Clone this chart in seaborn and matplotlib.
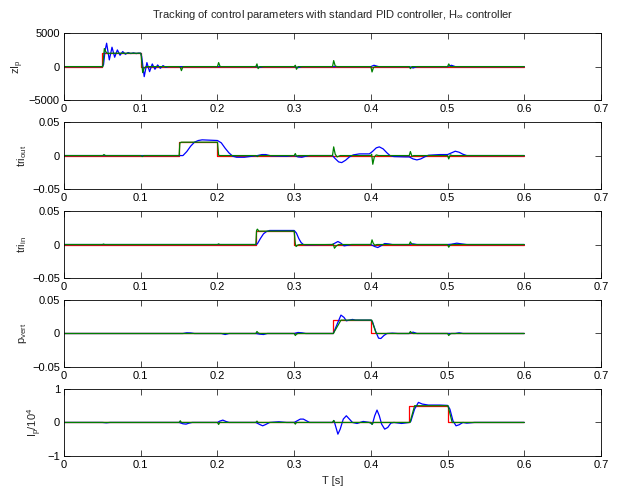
"""
Tracking of control parameters: reference, standard PID and H-infinity controller.
"""

import numpy as np
import pandas as pd
import matplotlib
matplotlib.use("Agg")
import matplotlib.pyplot as plt
import seaborn as sns

# ---- data ----
# panel 1 : zI_p
ref_t1 = [0, 0.05, 0.05, 0.1, 0.1, 0.6]
ref_v1 = [0, 0, 2000, 2000, 0, 0]
pid_t1 = [0, 0.0505, 0.0525, 0.0545, 0.057, 0.06, 0.1, 0.1005, 0.1025, 0.1045, 0.107,
          0.15, 0.1515, 0.153, 0.155, 0.2, 0.2015, 0.2035, 0.25, 0.2515, 0.253, 0.255,
          0.3, 0.3015, 0.303, 0.305, 0.35, 0.3515, 0.3535, 0.356, 0.4, 0.4015, 0.4035, 0.406,
          0.45, 0.4515, 0.4535, 0.5, 0.5015, 0.5035, 0.6]
pid_v1 = [0, 0, 2700, 2200, 1950, 2000, 2000, 1700, -900, -200, 0,
          0, -100, -600, 0, 0, 600, 0, 0, 400, -300, 0,
          0, 200, -400, 0, 0, 900, 100, 0, 0, -800, -100, 0,
          0, -300, 0, 0, 400, 0, 0]
hinf_t1 = [0, 0.05, 0.0515, 0.0535, 0.0555, 0.059, 0.0625, 0.066, 0.0695, 0.073, 0.0765,
           0.08, 0.0835, 0.087, 0.0905, 0.094, 0.0975, 0.1, 0.1012, 0.1045, 0.108, 0.1115,
           0.115, 0.1185, 0.122, 0.1255, 0.129, 0.1325, 0.136, 0.25, 0.255, 0.26,
           0.3, 0.305, 0.31, 0.4, 0.404, 0.41, 0.45, 0.455, 0.46, 0.5, 0.505, 0.51, 0.6]
hinf_v1 = [0, 0, 300, 2400, 3500, 1000, 2900, 1400, 2500, 1700, 2250,
           1850, 2100, 1950, 2050, 1950, 2020, 2000, 1500, -1500, 600, -750,
           400, -400, 250, -250, 150, -100, 0, 0, -100, 0,
           0, -150, 0, 0, 200, 0, 0, -200, 0, 0, 200, 0, 0]

# panel 2 : tri_out
ref_t2 = [0, 0.15, 0.15, 0.2, 0.2, 0.6]
ref_v2 = [0, 0, 0.02, 0.02, 0, 0]
pid_t2 = [0, 0.0505, 0.052, 0.054, 0.1, 0.102, 0.104, 0.15, 0.151, 0.153, 0.2, 0.2015, 0.203,
          0.25, 0.252, 0.254, 0.3, 0.3015, 0.303, 0.305, 0.35, 0.3515, 0.3535, 0.356, 0.36,
          0.4, 0.401, 0.4025, 0.4045, 0.407, 0.41, 0.45, 0.4515, 0.4535, 0.456,
          0.5, 0.5015, 0.5035, 0.506, 0.6]
pid_v2 = [0, 0, 0.0015, 0, 0, -0.0015, 0, 0, 0.019, 0.02, 0.02, 0.0005, 0,
          0, -0.0015, 0, 0, 0.003, -0.001, 0, 0, 0.013, 0.002, -0.002, 0,
          0, 0.002, -0.013, -0.002, 0.001, 0, 0, 0.006, -0.001, 0,
          0, -0.005, 0.001, 0, 0]
hinf_t2 = [0, 0.15, 0.155, 0.16, 0.165, 0.17, 0.175, 0.18, 0.19, 0.2, 0.205, 0.21, 0.215,
           0.22, 0.225, 0.235, 0.245, 0.252, 0.258, 0.263, 0.27, 0.29, 0.3, 0.305, 0.31,
           0.315, 0.32, 0.35, 0.353, 0.358, 0.362, 0.367, 0.372, 0.377, 0.385, 0.398,
           0.402, 0.407, 0.411, 0.416, 0.421, 0.425, 0.43, 0.445, 0.45, 0.455, 0.46,
           0.465, 0.47, 0.475, 0.49, 0.5, 0.505, 0.51, 0.515, 0.52, 0.525, 0.6]
hinf_v2 = [0, 0, 0, 0.006, 0.014, 0.02, 0.0225, 0.0235, 0.023, 0.0225, 0.019, 0.011, 0.004,
           -0.001, -0.0025, -0.0025, -0.001, 0, 0.0015, 0.0015, -0.0005, -0.001, 0, -0.002, -0.0025,
           -0.001, 0, 0, -0.004, -0.0095, -0.0105, -0.007, -0.002, 0.001, 0.0025, 0.0025,
           0.006, 0.0115, 0.013, 0.01, 0.004, 0, -0.0015, -0.002, -0.002, -0.005, -0.0065,
           -0.005, -0.002, 0.0005, 0.0015, 0.0015, 0.004, 0.0065, 0.005, 0.002, 0, 0]

# panel 3 : tri_in
ref_t3 = [0, 0.25, 0.25, 0.3, 0.3, 0.6]
ref_v3 = [0, 0, 0.02, 0.02, 0, 0]
pid_t3 = [0, 0.05, 0.0515, 0.053, 0.2, 0.2015, 0.203, 0.25, 0.251, 0.252, 0.254, 0.3,
          0.3015, 0.3025, 0.305, 0.308, 0.35, 0.351, 0.3525, 0.355, 0.358, 0.4, 0.4015,
          0.403, 0.405, 0.408, 0.45, 0.4515, 0.453, 0.455, 0.5, 0.5015, 0.503, 0.506, 0.6]
pid_v3 = [0, 0, 0.0007, 0, 0, 0.001, 0, 0, 0.021, 0.023, 0.02, 0.02,
          0.001, -0.003, -0.0005, 0, 0, 0.001, -0.0055, -0.002, 0, 0, 0.007,
          0.002, -0.001, 0, 0, 0.004, 0.001, 0, 0, -0.004, -0.001, 0, 0]
hinf_t3 = [0, 0.25, 0.252, 0.256, 0.26, 0.264, 0.268, 0.28, 0.3, 0.303, 0.306, 0.309,
           0.312, 0.315, 0.35, 0.353, 0.357, 0.361, 0.365, 0.37, 0.375, 0.4, 0.405,
           0.409, 0.413, 0.418, 0.423, 0.428, 0.45, 0.455, 0.46, 0.5, 0.505, 0.512,
           0.518, 0.525, 0.6]
hinf_v3 = [0, 0, 0.001, 0.009, 0.016, 0.0195, 0.021, 0.021, 0.021, 0.017, 0.009, 0.003,
           0, -0.0005, 0, 0.002, 0.0045, 0.002, -0.002, -0.001, 0, 0, -0.003,
           -0.0045, -0.002, 0.0015, 0.001, 0, 0, 0.001, 0, 0, 0.0005, 0.002,
           0.001, 0, 0]

# panel 4 : p_vert
ref_t4 = [0, 0.35, 0.35, 0.4, 0.4, 0.6]
ref_v4 = [0, 0, 0.02, 0.02, 0, 0]
pid_t4 = [0, 0.25, 0.2515, 0.253, 0.255, 0.3, 0.3015, 0.303, 0.305, 0.351, 0.361, 0.401,
          0.407, 0.45, 0.4515, 0.453, 0.455, 0.5, 0.5015, 0.503, 0.505, 0.6]
pid_v4 = [0, 0, 0.003, 0.001, 0, 0, -0.003, -0.001, 0, 0, 0.02, 0.02,
          0, 0, 0.003, 0.001, 0, 0, -0.003, -0.001, 0, 0]
hinf_t4 = [0, 0.155, 0.16, 0.165, 0.17, 0.205, 0.21, 0.215, 0.25, 0.255, 0.26, 0.265,
           0.3, 0.305, 0.31, 0.315, 0.351, 0.356, 0.361, 0.365, 0.368, 0.372, 0.376,
           0.38, 0.4, 0.402, 0.406, 0.41, 0.413, 0.417, 0.421, 0.428, 0.435, 0.45,
           0.455, 0.46, 0.51, 0.515, 0.52, 0.6]
hinf_v4 = [0, 0, 0.001, 0.0008, 0, 0, -0.0015, 0, 0, -0.001, -0.0015, 0,
           0, 0.0015, 0.001, 0, 0, 0.014, 0.0275, 0.024, 0.019, 0.02, 0.021,
           0.02, 0.02, 0.018, 0.004, -0.007, -0.0075, -0.003, 0, 0.0005, 0, 0,
           0.002, 0, 0, 0.001, 0, 0]

# panel 5 : I_p / 10^4
ref_t5 = [0, 0.45, 0.45, 0.5, 0.5, 0.6]
ref_v5 = [0, 0, 0.5, 0.5, 0, 0]
pid_t5 = [0, 0.15, 0.1515, 0.153, 0.2, 0.2015, 0.203, 0.25, 0.2515, 0.253, 0.3, 0.3015,
          0.303, 0.35, 0.3515, 0.353, 0.4, 0.4015, 0.403, 0.451, 0.457, 0.5005, 0.506, 0.6]
pid_v5 = [0, 0, 0.05, 0, 0, -0.06, 0, 0, 0.04, 0, 0, -0.05,
          0, 0, 0.06, 0, 0, -0.06, 0, 0, 0.5, 0.5, 0, 0]
hinf_t5 = [0, 0.05, 0.055, 0.06, 0.15, 0.155, 0.159, 0.163, 0.167, 0.2, 0.203, 0.207,
           0.211, 0.215, 0.25, 0.255, 0.259, 0.263, 0.268, 0.28, 0.29, 0.3, 0.304, 0.308,
           0.312, 0.316, 0.32, 0.35, 0.352, 0.3545, 0.357, 0.36, 0.364, 0.368, 0.372,
           0.376, 0.382, 0.39, 0.398, 0.402, 0.405, 0.408, 0.411, 0.414, 0.418, 0.422,
           0.426, 0.43, 0.44, 0.45, 0.452, 0.457, 0.462, 0.467, 0.475, 0.49, 0.5, 0.503,
           0.507, 0.511, 0.515, 0.52, 0.525, 0.535, 0.6]
hinf_v5 = [0, 0, -0.01, 0, 0, -0.04, -0.05, -0.02, 0, 0, 0.04, 0.07,
           0.03, 0, 0, -0.06, -0.1, -0.06, 0, 0.02, 0, 0, 0.05, 0.1,
           0.1, 0.05, 0, 0, 0.05, -0.15, -0.35, -0.2, 0.1, 0.2, 0.1,
           0, -0.03, 0.03, 0, -0.05, 0.2, 0.37, 0.2, -0.05, -0.2, -0.15,
           -0.02, 0, -0.03, 0, 0.03, 0.4, 0.6, 0.55, 0.52, 0.52, 0.51, 0.4,
           0.05, -0.1, -0.07, 0, -0.02, 0, 0]

ylabels = ["zI$_p$", "tri$_{out}$", "tri$_{in}$", "p$_{vert}$", "I$_p$/10$^4$"]
ylims = [(-5000, 5000), (-0.05, 0.05), (-0.05, 0.05), (-0.05, 0.05), (-1, 1)]
yticks = [[-5000, 0, 5000], [-0.05, 0, 0.05], [-0.05, 0, 0.05], [-0.05, 0, 0.05], [-1, 0, 1]]
ytick_labels = [["\u22125000", "0", "5000"], ["\u22120.05", "0", "0.05"],
                ["\u22120.05", "0", "0.05"], ["\u22120.05", "0", "0.05"], ["\u22121", "0", "1"]]
xticks = [0, 0.1, 0.2, 0.3, 0.4, 0.5, 0.6, 0.7]
xtick_labels = ["0", "0.1", "0.2", "0.3", "0.4", "0.5", "0.6", "0.7"]

refs = [(ref_t1, ref_v1), (ref_t2, ref_v2), (ref_t3, ref_v3), (ref_t4, ref_v4), (ref_t5, ref_v5)]
pids = [(pid_t1, pid_v1), (pid_t2, pid_v2), (pid_t3, pid_v3), (pid_t4, pid_v4), (pid_t5, pid_v5)]
hinfs = [(hinf_t1, hinf_v1), (hinf_t2, hinf_v2), (hinf_t3, hinf_v3), (hinf_t4, hinf_v4),
         (hinf_t5, hinf_v5)]

# ---- style ----
sns.set_style("ticks")
plt.rcParams['font.family'] = ['Liberation Sans', 'DejaVu Sans']
plt.rcParams['mathtext.fontset'] = 'custom'
plt.rcParams['mathtext.rm'] = 'Liberation Sans'
plt.rcParams['mathtext.it'] = 'Liberation Sans'
plt.rcParams['mathtext.default'] = 'regular'

fig, axes = plt.subplots(5, 1, figsize=(6.28, 4.95), dpi=100)
fig.subplots_adjust(left=0.102, right=0.957, top=0.933, bottom=0.079, hspace=0.33)

for i, ax in enumerate(axes):
    sns.lineplot(x=refs[i][0], y=refs[i][1], ax=ax, color=(1, 0, 0), lw=0.9,
                 estimator=None, sort=False)
    sns.lineplot(x=hinfs[i][0], y=hinfs[i][1], ax=ax, color=(0, 0, 1), lw=0.9,
                 estimator=None, sort=False)
    sns.lineplot(x=pids[i][0], y=pids[i][1], ax=ax, color=(0, 0.5, 0), lw=0.9,
                 estimator=None, sort=False)

    ax.set_xlim(0, 0.7)
    ax.set_ylim(*ylims[i])
    ax.set_xticks(xticks)
    ax.set_xticklabels(xtick_labels)
    ax.set_yticks(yticks[i])
    ax.set_yticklabels(ytick_labels[i])
    ax.tick_params(direction='in', top=True, right=True, length=4, width=0.5,
                   labelsize=8, colors='black', pad=3)
    for sp in ax.spines.values():
        sp.set_visible(True)
        sp.set_linewidth(0.6)
        sp.set_color('black')
    ax.set_ylabel(ylabels[i], fontsize=8, labelpad=2)
    ax.set_xlabel('')

axes[-1].set_xlabel('T [s]', fontsize=8)
axes[0].set_title('Tracking of control parameters with standard PID controller, '
                  'H$_\\infty$ controller', fontsize=8, pad=11)

fig.savefig('out.png', dpi=100)
